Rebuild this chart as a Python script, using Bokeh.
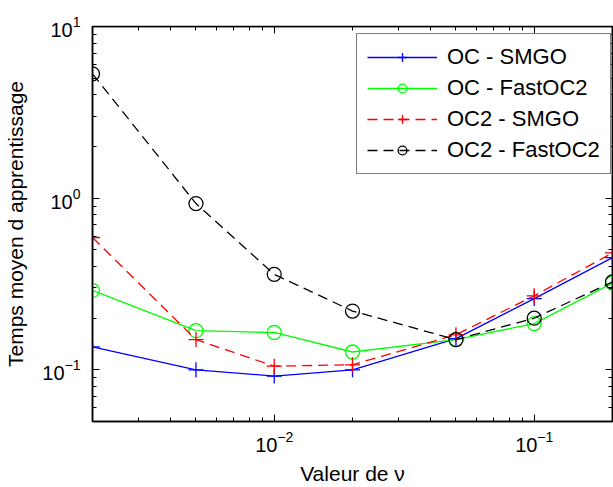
from bokeh.plotting import figure
from bokeh.models import LogAxis, Range1d, Legend, LegendItem, FixedTicker, LogTickFormatter, CustomJSTickFormatter
from bokeh.embed import file_html
from bokeh.resources import INLINE

nu = [0.002, 0.005, 0.01, 0.02, 0.05, 0.1, 0.2]
oc_smgo = [0.136, 0.100, 0.092, 0.100, 0.152, 0.26, 0.45]
oc_fastoc2 = [0.29, 0.169, 0.165, 0.127, 0.150, 0.186, 0.32]
oc2_smgo = [0.59, 0.15, 0.105, 0.107, 0.16, 0.27, 0.48]
oc2_fastoc2 = [5.3, 0.93, 0.36, 0.22, 0.15, 0.20, 0.325]

x_major = [0.01, 0.1]
x_minor = [0.002, 0.003, 0.004, 0.005, 0.006, 0.007, 0.008, 0.009,
           0.02, 0.03, 0.04, 0.05, 0.06, 0.07, 0.08, 0.09, 0.2]
y_major = [0.1, 1, 10]
y_minor = [0.05, 0.06, 0.07, 0.08, 0.09, 0.2, 0.3, 0.4, 0.5, 0.6, 0.7, 0.8, 0.9,
           2, 3, 4, 5, 6, 7, 8, 9]
x_lim = (0.002, 0.2)
y_lim = (0.05, 10)

FONT = "Liberation Sans"

p = figure(width=613, height=487, x_axis_type="log", y_axis_type="log",
           x_range=Range1d(*x_lim), y_range=Range1d(*y_lim),
           output_backend="svg", toolbar_location=None,
           min_border_left=92, min_border_top=26, min_border_bottom=66, min_border_right=1)
p.background_fill_color = "white"
p.border_fill_color = "white"
p.outline_line_color = "black"
p.outline_line_width = 1.5
p.grid.visible = False

p.xaxis[0].ticker = FixedTicker(ticks=x_major, minor_ticks=x_minor)
p.yaxis[0].ticker = FixedTicker(ticks=y_major, minor_ticks=y_minor)
p.xaxis[0].formatter = LogTickFormatter()
p.yaxis[0].formatter = LogTickFormatter()

for ax in [p.xaxis[0], p.yaxis[0]]:
    ax.axis_line_width = 1.5
    ax.axis_line_color = "black"
    ax.major_tick_in = 7
    ax.major_tick_out = 0
    ax.minor_tick_in = 4
    ax.minor_tick_out = 0
    ax.major_tick_line_color = "black"
    ax.minor_tick_line_color = "black"
    ax.major_label_text_font = FONT
    ax.major_label_text_font_size = "20px"
    ax.major_label_text_color = "black"
    ax.axis_label_text_font = FONT
    ax.axis_label_text_font_size = "21px"
    ax.axis_label_text_font_style = "normal"
    ax.axis_label_text_color = "black"

p.xaxis.axis_label = "Valeur de ν"
p.yaxis.axis_label = "Temps moyen d apprentissage"
p.xaxis.major_label_standoff = 9
p.xaxis.axis_label_standoff = 7
p.yaxis.major_label_standoff = 12
p.yaxis.axis_label_standoff = 12

blank = CustomJSTickFormatter(code="return ''")
for loc, maj, mnr, fixed in [("above", x_major, x_minor, y_lim[1]),
                             ("right", y_major, y_minor, x_lim[1])]:
    ax = LogAxis(ticker=FixedTicker(ticks=maj, minor_ticks=mnr), formatter=blank,
                 fixed_location=fixed)
    ax.axis_line_width = 1.5
    ax.major_tick_in = 7
    ax.major_tick_out = 0
    ax.minor_tick_in = 4
    ax.minor_tick_out = 0
    ax.major_label_text_font_size = "0px"
    ax.major_label_standoff = 0
    p.add_layout(ax, loc)

lw = 1.3
r1 = p.line(nu, oc_smgo, line_color="#0000ff", line_width=lw)
m1 = p.scatter(nu, oc_smgo, marker="cross", size=15, line_color="#0000ff", line_width=lw)
r2 = p.line(nu, oc_fastoc2, line_color="#00ff00", line_width=lw)
m2 = p.scatter(nu, oc_fastoc2, marker="circle", size=14, line_color="#00ff00", fill_color=None, line_width=lw)
r3 = p.line(nu, oc2_smgo, line_color="#ff0000", line_width=lw, line_dash="10 6")
m3 = p.scatter(nu, oc2_smgo, marker="cross", size=15, line_color="#ff0000", line_width=lw)
r4 = p.line(nu, oc2_fastoc2, line_color="black", line_width=lw, line_dash="10 6")
m4 = p.scatter(nu, oc2_fastoc2, marker="circle", size=14, line_color="black", fill_color=None, line_width=lw)

legend = Legend(items=[
    LegendItem(label="OC - SMGO", renderers=[r1, m1]),
    LegendItem(label="OC - FastOC2", renderers=[r2, m2]),
    LegendItem(label="OC2 - SMGO", renderers=[r3, m3]),
    LegendItem(label="OC2 - FastOC2", renderers=[r4, m4]),
], location=(264, 247))
legend.label_text_font = FONT
legend.label_text_font_size = "22px"
legend.label_text_color = "black"
legend.border_line_color = "black"
legend.border_line_width = 1.5
legend.padding = 10
legend.spacing = 5
legend.glyph_width = 70
legend.glyph_height = 22
legend.label_height = 22
legend.label_standoff = 10
legend.margin = 0
legend.background_fill_alpha = 1
p.add_layout(legend, "center")

open("out.html", "w").write(file_html(p, INLINE))
